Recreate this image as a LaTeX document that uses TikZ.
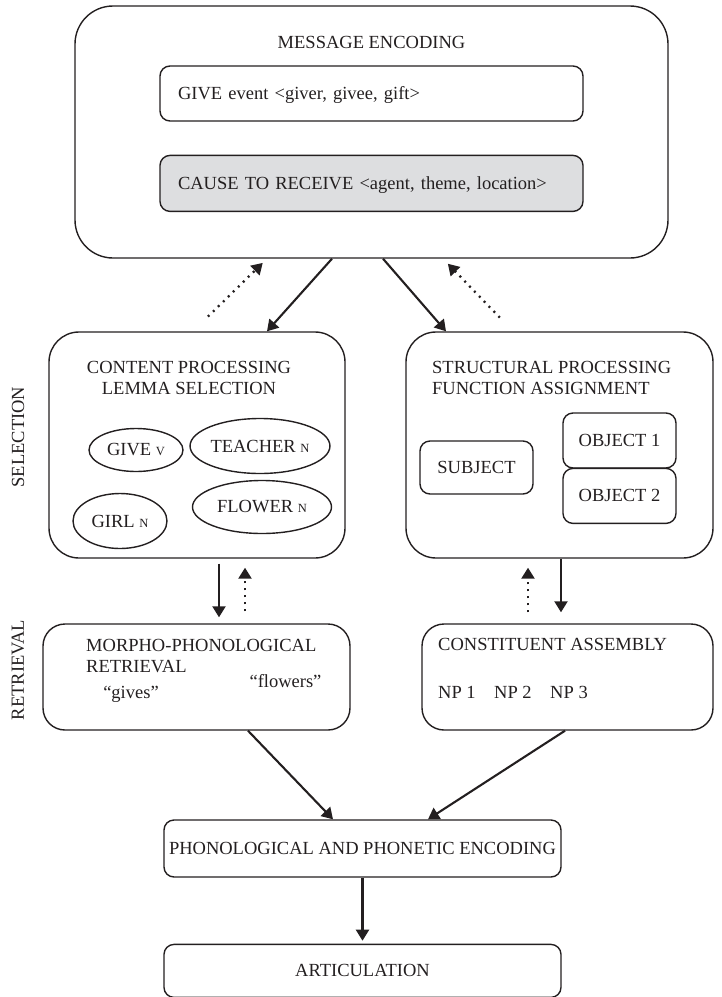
\documentclass[tikz,border=0pt]{standalone}
\usepackage{fontspec}
\setmainfont{Liberation Serif}
\usepackage{tikz}
\usetikzlibrary{positioning,arrows.meta,shapes.geometric}

\definecolor{ink}{RGB}{35,31,32}
\definecolor{boxgray}{RGB}{221,222,224}
\newcommand{\wordclass}[1]{{\fontsize{12.5}{12.5}\selectfont #1}}

\begin{document}
\begin{tikzpicture}[
    x=1pt, y=1pt,
    color=ink,
    font=\fontsize{18.5}{21}\selectfont,
    bigbox/.style={
        draw,
        line width=1.4pt,
        rounded corners=30pt,
        inner sep=0pt
    },
    box/.style={
        draw,
        line width=1.4pt,
        rounded corners=10pt,
        inner sep=0pt,
        text height=12pt,
        text depth=0pt
    },
    oval/.style={
        draw,
        ellipse,
        line width=1.4pt,
        inner sep=0pt
    },
    sidelabel/.style={rotate=90, inner sep=0pt},
    arrow/.style={-{Triangle[length=11pt,width=13pt]}, line width=2.1pt},
    dotarrow/.style={arrow, line width=2.3pt, dash pattern=on 2pt off 5pt}
]

\useasboundingbox (0,0) rectangle (721,-997);

% message level
\node[bigbox, rounded corners=38pt, minimum width=593pt, minimum height=252pt] (msg) at (371.5,-132) {};
\node[inner sep=0pt] (msgtitle) at ([yshift=-37pt]msg.north) {MESSAGE ENCODING};
\node[box, minimum width=423pt, minimum height=55pt, text width=387pt, align=left] (event) at (371.5,-93.5) {GIVE event <giver, givee, gift>};
\node[box, fill=boxgray, minimum width=423pt, minimum height=56pt, text width=387pt, align=left, below=33pt of event] (cause) {CAUSE TO RECEIVE <agent, theme, location>};

% selection level
\node[bigbox, minimum width=296pt, minimum height=226pt] (content) at (197,-445) {};
\node[align=center, inner sep=0pt] (contenttitle) at (189,-377.5) {CONTENT PROCESSING\\LEMMA SELECTION};
\node[oval, minimum width=94pt, minimum height=43pt] (give) at (136,-450) {GIVE \wordclass{V}};
\node[oval, minimum width=139pt, minimum height=55pt] (teacher) at (260,-446) {TEACHER \wordclass{N}};
\node[oval, minimum width=94pt, minimum height=55pt] (girl) at (120,-521) {GIRL \wordclass{N}};
\node[oval, minimum width=139pt, minimum height=53pt] (flower) at (262,-507) {FLOWER \wordclass{N}};

\node[bigbox, minimum width=307pt, minimum height=226pt] (struct) at (559.5,-445) {};
\node[align=left, anchor=west, inner sep=0pt] (structtitle) at (432,-377.5) {STRUCTURAL PROCESSING\\FUNCTION ASSIGNMENT};
\node[box, minimum width=113pt, minimum height=53pt] (subject) at (476.5,-467.5) {SUBJECT};
\node[box, minimum width=113pt, minimum height=55pt] (obj1) at (619.5,-440.5) {OBJECT 1};
\node[box, minimum width=113pt, minimum height=55pt, below=-1pt of obj1] (obj2) {OBJECT 2};

% retrieval level
\node[bigbox, rounded corners=22pt, minimum width=307pt, minimum height=106pt] (morpho) at (196.5,-677) {};
\node[align=left, anchor=west, inner sep=0pt] (morphotitle) at (86,-656) {MORPHO-PHONOLOGICAL\\RETRIEVAL};
\node[anchor=base, inner sep=0pt] (gives) at (131,-698) {“gives”};
\node[anchor=base, inner sep=0pt] (flowers) at (285.5,-687) {“flowers”};

\node[bigbox, rounded corners=22pt, minimum width=291pt, minimum height=106pt] (constit) at (567.5,-677) {};
\node[anchor=base west, inner sep=0pt] (constittitle) at (438,-650) {CONSTITUENT ASSEMBLY};
\node[anchor=base west, inner sep=0pt] (nps) at (438,-698) {NP 1\quad NP 2\quad NP 3};

\node[sidelabel] (sel) at (18,-437) {SELECTION};
\node[sidelabel] (ret) at (18,-670) {RETRIEVAL};

% output
\node[box, minimum width=397pt, minimum height=57pt] (phon) at (362.5,-848.5) {PHONOLOGICAL AND PHONETIC ENCODING};
\node[box, minimum width=397pt, minimum height=53pt, below=66pt of phon] (artic) {ARTICULATION};

% connectors
\draw[arrow] ([xshift=-39.5pt]msg.south) -- ([xshift=70pt]content.north);
\draw[arrow] ([xshift=11.5pt]msg.south) -- ([xshift=-113.5pt]struct.north);
\draw[dotarrow, shorten <=21pt, shorten >=6pt] ([xshift=-4pt]content.north) -- ([xshift=-104.5pt]msg.south);
\draw[dotarrow, shorten <=19pt, shorten >=7pt] ([xshift=-46.5pt]struct.north) -- ([xshift=71.5pt]msg.south);

\draw[arrow, shorten <=5pt, shorten >=6pt] ([xshift=22pt]content.south) -- ([xshift=22.5pt]morpho.north);
\draw[dotarrow, shorten <=12pt, shorten >=9pt] ([xshift=48.5pt]morpho.north) -- ([xshift=48pt]content.south);
\draw[arrow, shorten >=11pt] ([xshift=1.5pt]struct.south) -- ([xshift=-6.5pt]constit.north);
\draw[dotarrow, shorten <=11pt, shorten >=9pt] ([xshift=-39.5pt]constit.north) -- ([xshift=-31.5pt]struct.south);

\draw[arrow] ([xshift=51.5pt]morpho.south) -- ([xshift=-29.5pt]phon.north);
\draw[arrow] ([xshift=-2.5pt]constit.south) -- ([xshift=65.5pt]phon.north);
\draw[arrow, shorten >=3pt] (phon) -- (artic);

\end{tikzpicture}
\end{document}
